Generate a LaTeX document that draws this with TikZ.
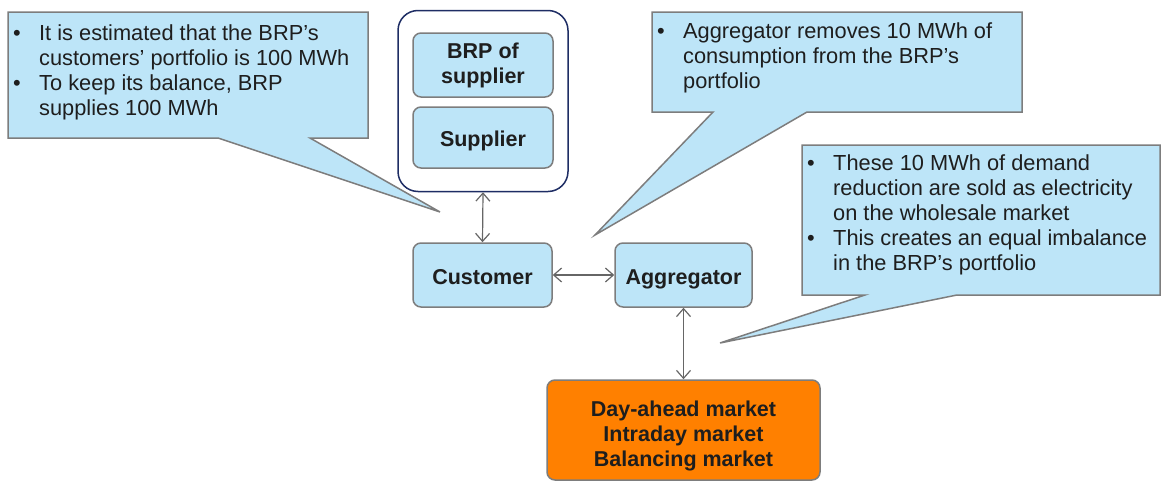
\documentclass[tikz,border=0pt]{standalone}
\usepackage{fontspec}
\setmainfont{Liberation Sans}
\usetikzlibrary{arrows.meta}

\definecolor{boxblue}{RGB}{189,229,248}
\definecolor{boxgray}{RGB}{125,125,125}
\definecolor{navyline}{RGB}{30,45,100}
\definecolor{marketorange}{RGB}{255,128,0}
\definecolor{textgray}{RGB}{30,30,30}

\newcommand{\bul}{\makebox[26pt][l]{\textbullet}}
\newcommand{\ind}{\hspace*{26pt}}

\begin{document}
\begin{tikzpicture}[x=1pt, y=-1pt,
    actor/.style={draw=boxgray, fill=boxblue, line width=1.5pt, rounded corners=8pt, inner sep=0pt,
        align=center, text=textgray, font=\fontsize{21.5}{25}\selectfont\bfseries},
    oneline/.style={text height=18pt, text depth=0pt},
    note/.style={draw=boxgray, fill=boxblue, line width=1.5pt},
    notetext/.style={anchor=base west, align=left, inner sep=0pt, text=textgray,
        font=\fontsize{21.8}{25}\selectfont},
    link/.style={draw=black!60, line width=1.2pt,
        {Straight Barb[length=8pt,width=14pt]}-{Straight Barb[length=8pt,width=14pt]}}]
    \useasboundingbox (0,0) rectangle (1162,482);

    % Callouts (text placed by the baseline of its last line)
    \draw [note] (8,12) -- (368,12) -- (368,138) -- (310,138) -- (440,212) -- (218,138) -- (8,138) -- cycle;
    \node (notebalance) [notetext] at (13,115) {\bul It is estimated that the BRP's\\
        \ind customers' portfolio is 100 MWh\\
        \bul To keep its balance, BRP\\
        \ind supplies 100 MWh};

    \draw [note] (652,12) -- (1022,12) -- (1022,112) -- (807,112) -- (595,235) -- (713,112) -- (652,112) -- cycle;
    \node (noteremove) [notetext] at (657,88) {\bul Aggregator removes 10 MWh of\\
        \ind consumption from the BRP's\\
        \ind portfolio};

    \draw [note] (802,145) -- (1160,145) -- (1160,295) -- (957,295) -- (720,343) -- (865,295) -- (802,295) -- cycle;
    \node (notesold) [notetext] at (807,270) {\bul These 10 MWh of demand\\
        \ind reduction are sold as electricity\\
        \ind on the wholesale market\\
        \bul This creates an equal imbalance\\
        \ind in the BRP's portfolio};

    % BRP side
    \node (group) [draw=navyline, fill=white, line width=1.5pt, rounded corners=20pt,
        minimum width=170pt, minimum height=181pt] at (483,101) {};
    \node (brp) [actor, minimum width=140pt, minimum height=64pt] at (483,65) {BRP of\\supplier};
    \node (supplier) [actor, oneline, minimum width=140pt, minimum height=61pt] at (483,137.5) {Supplier};

    % Customer, aggregator and markets
    \node (customer) [actor, oneline, minimum width=139pt, minimum height=64pt] at (482.5,275) {Customer};
    \node (aggregator) [actor, oneline, minimum width=137pt, minimum height=64pt] at (683.5,275) {Aggregator};
    \node (market) [actor, fill=marketorange, minimum width=273pt, minimum height=100pt] at (683.5,430)
        {\rule{0pt}{28pt}Day-ahead market\\Intraday market\\Balancing market};

    \draw [link] (group.south) -- (customer.north);
    \draw [link] (customer) -- (aggregator);
    \draw [link] (aggregator) -- (market);
\end{tikzpicture}
\end{document}
